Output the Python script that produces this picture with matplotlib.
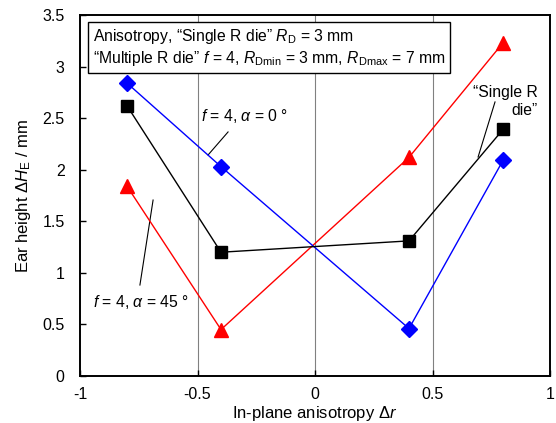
import matplotlib
matplotlib.use("Agg")
import matplotlib.pyplot as plt

plt.rcParams['font.family'] = ['Liberation Sans', 'DejaVu Sans']
plt.rcParams['mathtext.fontset'] = 'custom'
plt.rcParams['mathtext.rm'] = 'Liberation Sans'
plt.rcParams['mathtext.it'] = 'Liberation Sans:italic'
plt.rcParams['mathtext.bf'] = 'Liberation Sans:bold'

dr = [-0.8, -0.4, 0.4, 0.8]
single_r = [2.62, 1.20, 1.31, 2.39]
alpha0 = [2.84, 2.03, 0.46, 2.09]
alpha45 = [1.84, 0.45, 2.12, 3.23]

xticks = [-1, -0.5, 0, 0.5, 1]
xticklabels = ['-1', '-0.5', '0', '0.5', '1']
yticks = [0, 0.5, 1, 1.5, 2, 2.5, 3, 3.5]
yticklabels = ['0', '0.5', '1', '1.5', '2', '2.5', '3', '3.5']

fig = plt.figure(figsize=(5.56, 4.23), dpi=100)
ax = fig.add_axes([80/556, 1-376/423, 470/556, 361/423])

for xv in [-0.5, 0, 0.5]:
    ax.axvline(xv, color='#808080', lw=0.8, zorder=0)

ax.plot(dr, alpha45, color='red', marker='^', ms=10, lw=1.0, zorder=3)
ax.plot(dr, alpha0, color='blue', marker='D', ms=8, lw=1.0, zorder=3)
ax.plot(dr, single_r, color='black', marker='s', ms=8.5, lw=1.0, zorder=3)

ax.set_xlim(-1, 1)
ax.set_ylim(0, 3.5)
ax.set_xticks(xticks)
ax.set_xticklabels(xticklabels)
ax.set_yticks(yticks)
ax.set_yticklabels(yticklabels)
ax.tick_params(direction='in', length=4, width=1, labelsize=11.5, top=False, right=False)
ax.tick_params(axis='x', pad=8)
ax.tick_params(axis='y', pad=11)
for s in ['left', 'bottom', 'top', 'right']:
    ax.spines[s].set_linewidth(1.4)

ax.set_xlabel(r'In-plane anisotropy $\mathit{Δr}$', fontsize=12, labelpad=1)
ax.set_ylabel(r'Ear height $\mathit{ΔH}_{\mathrm{E}}$ / mm', fontsize=12, labelpad=7)

# legend-like box
ax.text(-0.945, 3.385, 'Anisotropy, “Single R die” $\\mathit{R}_{\\mathrm{D}}$ = 3 mm\n'
        '“Multiple R die” $\\mathit{f}$ = 4, $\\mathit{R}_{\\mathrm{Dmin}}$ = 3 mm, $\\mathit{R}_{\\mathrm{Dmax}}$ = 7 mm',
        fontsize=11.3, va='top', ha='left', linespacing=1.25,
        bbox=dict(boxstyle='square,pad=0.3', fc='white', ec='black', lw=1.0), zorder=5)

# annotation texts and leader lines
ax.text(-0.30, 2.52, r'$\mathit{f}$ = 4, $\alpha$ = 0 °', fontsize=11.3, ha='center', va='center')
ax.plot([-0.370, -0.455], [2.366, 2.143], color='black', lw=0.8, zorder=2)

ax.text(-0.74, 0.72, r'$\mathit{f}$ = 4, $\alpha$ = 45 °', fontsize=11.3, ha='center', va='center')
ax.plot([-0.689, -0.745], [1.706, 0.882], color='black', lw=0.8, zorder=2)

ax.text(0.949, 2.66, '“Single R\ndie”', fontsize=11.3, ha='right', va='center',
        multialignment='right', linespacing=1.2)
ax.plot([0.766, 0.694], [2.657, 2.123], color='black', lw=0.8, zorder=2)

fig.savefig('out.png', dpi=100)
